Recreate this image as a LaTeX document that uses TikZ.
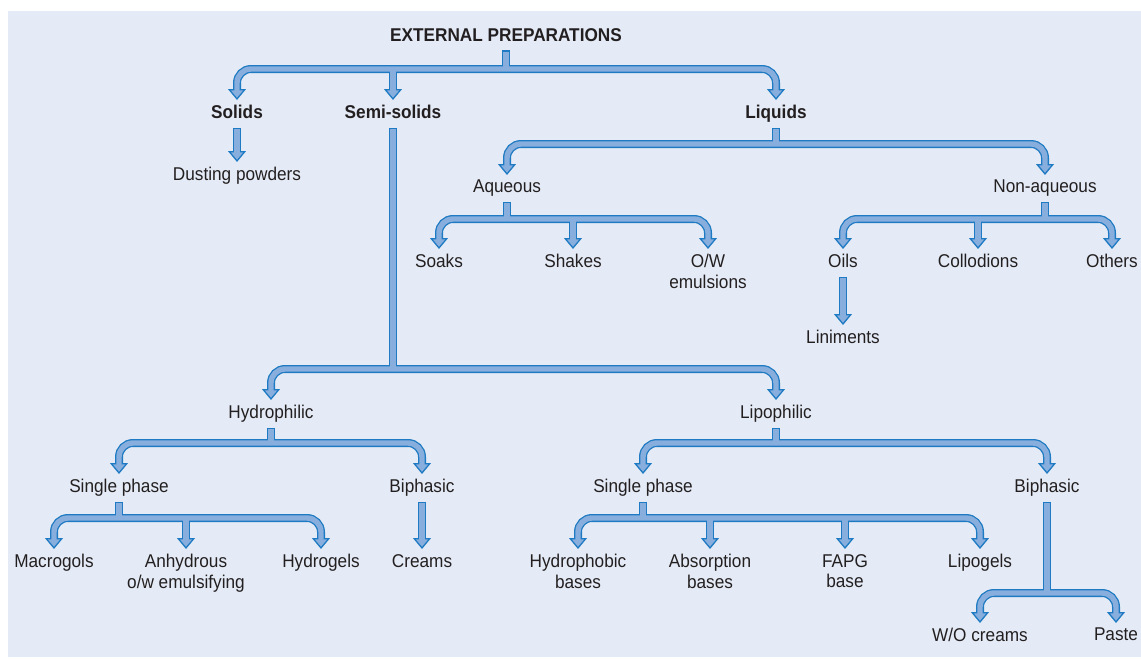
\documentclass[tikz,border=0pt]{standalone}
\usepackage{fontspec}
\setmainfont{Liberation Sans}[FakeStretch=0.93]
\usepackage{xcolor}
\usepackage{tikz}
\usetikzlibrary{arrows.meta}
\definecolor{panel}{RGB}{228,235,246}
\definecolor{pipeedge}{RGB}{30,122,194}
\definecolor{pipecore}{RGB}{136,174,222}
\definecolor{inkgrey}{RGB}{35,31,32}
\tikzset{
  ep item/.style={
    anchor=north,
    inner xsep=0pt,
    inner ysep=5pt,
    text depth=4pt,
    align=center,
    text=inkgrey,
    font=\fontsize{18.5}{20.5}\selectfont,
  },
  ep group/.style={ep item, font=\fontsize{18.5}{20.5}\selectfont\bfseries},
  ep tip/.style={-{Triangle[width=18pt,length=11pt,fill=pipecore,line width=1.3pt]}},
  ep outer pass/.style={
    ep stem/.style={draw=pipeedge, line width=8pt},
    ep branch/.style={draw=pipeedge, line width=8pt, rounded corners=14pt, ep tip},
    ep link/.style={draw=pipeedge, line width=8pt, ep tip},
  },
  ep inner pass/.style={
    ep stem/.style={draw=pipecore, line width=5.4pt, shorten <=1.3pt},
    ep branch/.style={draw=pipecore, line width=5.4pt, rounded corners=14pt, shorten >=9pt},
    ep link/.style={draw=pipecore, line width=5.4pt, shorten <=1.3pt, shorten >=9pt},
  },
}
\newcommand{\pipework}{%
  \draw[ep stem] (ext.south) -- (ext.south |- extbar);
  \draw[ep branch] (ext.south |- extbar) -| (solids.north);
  \draw[ep branch] (ext.south |- extbar) -| (liquids.north);
  \draw[ep branch] (semi.north |- extbar) -- (semi.north);
  \draw[ep link] (solids.south) -- (dusting.north);

  \draw[ep stem] (semi.south) -- (semi.south |- semibar);
  \draw[ep branch] (semi.south |- semibar) -| (hydrophilic.north);
  \draw[ep branch] (semi.south |- semibar) -| (lipophilic.north);

  \draw[ep stem] (liquids.south) -- (liquids.south |- liqbar);
  \draw[ep branch] (liquids.south |- liqbar) -| (aqueous.north);
  \draw[ep branch] (liquids.south |- liqbar) -| (nonaq.north);

  \draw[ep stem] (aqueous.south) -- (aqueous.south |- aqbar);
  \draw[ep branch] (aqueous.south |- aqbar) -| (soaks.north);
  \draw[ep branch] (aqueous.south |- aqbar) -| (ow.north);
  \draw[ep branch] (shakes.north |- aqbar) -- (shakes.north);

  \draw[ep stem] (nonaq.south) -- (nonaq.south |- aqbar);
  \draw[ep branch] (nonaq.south |- aqbar) -| (oils.north);
  \draw[ep branch] (nonaq.south |- aqbar) -| (others.north);
  \draw[ep branch] (collodions.north |- aqbar) -- (collodions.north);
  \draw[ep link] (oils.south) -- (liniments.north);

  \draw[ep stem] (hydrophilic.south) -- (hydrophilic.south |- phasebar);
  \draw[ep branch] (hydrophilic.south |- phasebar) -| (hsingle.north);
  \draw[ep branch] (hydrophilic.south |- phasebar) -| (hbiphasic.north);

  \draw[ep stem] (lipophilic.south) -- (lipophilic.south |- phasebar);
  \draw[ep branch] (lipophilic.south |- phasebar) -| (lsingle.north);
  \draw[ep branch] (lipophilic.south |- phasebar) -| (lbiphasic.north);

  \draw[ep stem] (hsingle.south) -- (hsingle.south |- basebar);
  \draw[ep branch] (hsingle.south |- basebar) -| (macrogols.north);
  \draw[ep branch] (hsingle.south |- basebar) -| (hydrogels.north);
  \draw[ep branch] (anhydrous.north |- basebar) -- (anhydrous.north);
  \draw[ep link] (hbiphasic.south) -- (creams.north);

  \draw[ep stem] (lsingle.south) -- (lsingle.south |- basebar);
  \draw[ep branch] (lsingle.south |- basebar) -| (hydrophobic.north);
  \draw[ep branch] (lsingle.south |- basebar) -| (lipogels.north);
  \draw[ep branch] (absorption.north |- basebar) -- (absorption.north);
  \draw[ep branch] (fapg.north |- basebar) -- (fapg.north);

  \draw[ep stem] (lbiphasic.south) -- (lbiphasic.south |- creambar);
  \draw[ep branch] (lbiphasic.south |- creambar) -| (wocreams.north);
  \draw[ep branch] (lbiphasic.south |- creambar) -| (paste.north);
}

\begin{document}
\begin{tikzpicture}[x=1pt, y=-1pt]
  \useasboundingbox (0,0) rectangle (1141,659);
  \fill[panel] (8,11) rectangle (1141,657);

  \node[ep group] (ext) at (506,23) {EXTERNAL PREPARATIONS};
  \node[ep group] (solids) at (237,100) {Solids};
  \node[ep group] (semi) at (393,100) {Semi-solids};
  \node[ep group] (liquids) at (776,100) {Liquids};
  \node[ep item] (dusting) at (237,162) {Dusting powders};

  \node[ep item] (aqueous) at (507,175) {Aqueous};
  \node[ep item] (nonaq) at (1045,175) {Non-aqueous};
  \node[ep item] (soaks) at (439,249) {Soaks};
  \node[ep item] (shakes) at (573,249) {Shakes};
  \node[ep item] (ow) at (708,249) {O/W\\emulsions};
  \node[ep item] (oils) at (843,249) {Oils};
  \node[ep item] (collodions) at (978,249) {Collodions};
  \node[ep item] (others) at (1112,249) {Others};
  \node[ep item] (liniments) at (843,325) {Liniments};

  \node[ep item] (hydrophilic) at (271,400) {Hydrophilic};
  \node[ep item] (lipophilic) at (776,400) {Lipophilic};
  \node[ep item] (hsingle) at (119,474) {Single phase};
  \node[ep item] (hbiphasic) at (422,474) {Biphasic};
  \node[ep item] (lsingle) at (643,474) {Single phase};
  \node[ep item] (lbiphasic) at (1047,474) {Biphasic};

  \node[ep item] (macrogols) at (54,549) {Macrogols};
  \node[ep item] (anhydrous) at (186,549) {Anhydrous\\o/w emulsifying};
  \node[ep item] (hydrogels) at (321,549) {Hydrogels};
  \node[ep item] (creams) at (422,549) {Creams};
  \node[ep item] (hydrophobic) at (578,549) {Hydrophobic\\bases};
  \node[ep item] (absorption) at (710,549) {Absorption\\bases};
  \node[ep item] (fapg) at (845,549) {FAPG\\base};
  \node[ep item] (lipogels) at (980,549) {Lipogels};
  \node[ep item] (wocreams) at (980,623) {W/O creams};
  \node[ep item] (paste) at (1116,623) {Paste};

  % bar heights of the pipes
  \coordinate (extbar) at (0,69);
  \coordinate (liqbar) at (0,144);
  \coordinate (aqbar) at (0,219);
  \coordinate (semibar) at (0,369);
  \coordinate (phasebar) at (0,443);
  \coordinate (basebar) at (0,518);
  \coordinate (creambar) at (0,593);

  \begin{scope}[ep outer pass]
    \pipework
  \end{scope}
  \begin{scope}[ep inner pass]
    \pipework
  \end{scope}
\end{tikzpicture}
\end{document}
